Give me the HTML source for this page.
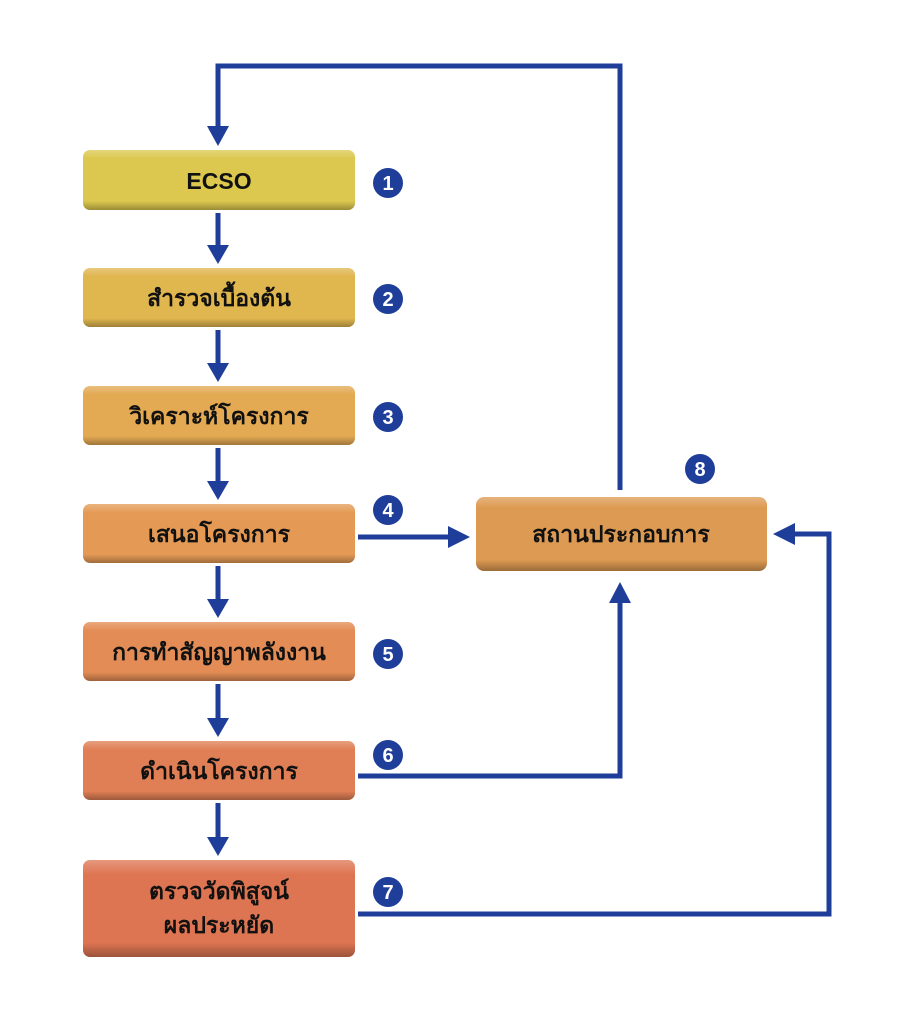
<!DOCTYPE html>
<html><head><meta charset="utf-8"><style>
body{margin:0;background:#fff;width:912px;height:1024px;overflow:hidden}
svg text{font-family:"Liberation Sans","DejaVu Sans",sans-serif;font-weight:bold}
</style></head><body>
<svg width="912" height="1024" viewBox="0 0 912 1024" xmlns="http://www.w3.org/2000/svg">
<defs>
<linearGradient id="sh" x1="0" y1="0" x2="0" y2="1"><stop offset="0" stop-color="#fff" stop-opacity="0.25"/><stop offset="0.15" stop-color="#fff" stop-opacity="0"/><stop offset="0.85" stop-color="#000" stop-opacity="0"/><stop offset="1" stop-color="#000" stop-opacity="0.3"/></linearGradient>
</defs>
<g fill="none" stroke="#1f3e99" stroke-width="5">
<polyline points="620,490 620,66 218,66 218,126"/>
<line x1="218" y1="213" x2="218" y2="245"/>
<line x1="218" y1="330" x2="218" y2="363"/>
<line x1="218" y1="448" x2="218" y2="481"/>
<line x1="218" y1="566" x2="218" y2="599"/>
<line x1="218" y1="684" x2="218" y2="718"/>
<line x1="218" y1="803" x2="218" y2="837"/>
<line x1="358" y1="537" x2="448" y2="537"/>
<polyline points="358,776 620,776 620,603"/>
<polyline points="358,914 829,914 829,534 795,534"/>
</g>
<g fill="#1f3e99">
<path d="M207,126 L229,126 L218,146z"/>
<path d="M207,245 L229,245 L218,264z"/>
<path d="M207,363 L229,363 L218,382z"/>
<path d="M207,481 L229,481 L218,500z"/>
<path d="M207,599 L229,599 L218,618z"/>
<path d="M207,718 L229,718 L218,737z"/>
<path d="M207,837 L229,837 L218,856z"/>
<path d="M448,526 L448,548 L470,537z"/>
<path d="M609,603 L631,603 L620,582z"/>
<path d="M795,523 L795,545 L773,534z"/>
</g>
<g>
<rect x="83" y="150" width="272" height="60" rx="7" fill="#dcc84e"/>
<rect x="83" y="268" width="272" height="59" rx="7" fill="#e0b64e"/>
<rect x="83" y="386" width="272" height="59" rx="7" fill="#e3a953"/>
<rect x="83" y="504" width="272" height="59" rx="7" fill="#e49a55"/>
<rect x="83" y="622" width="272" height="59" rx="7" fill="#e38c55"/>
<rect x="83" y="741" width="272" height="59" rx="7" fill="#e07f55"/>
<rect x="83" y="860" width="272" height="97" rx="7" fill="#de7552"/>
<rect x="476" y="497" width="291" height="74" rx="8" fill="#dd9a52"/>
</g>
<g fill="url(#sh)">
<rect x="83" y="150" width="272" height="60" rx="7"/>
<rect x="83" y="268" width="272" height="59" rx="7"/>
<rect x="83" y="386" width="272" height="59" rx="7"/>
<rect x="83" y="504" width="272" height="59" rx="7"/>
<rect x="83" y="622" width="272" height="59" rx="7"/>
<rect x="83" y="741" width="272" height="59" rx="7"/>
<rect x="83" y="860" width="272" height="97" rx="7"/>
<rect x="476" y="497" width="291" height="74" rx="8"/>
</g>
<g font-size="23" text-anchor="middle" fill="#111">
<text x="219" y="189">ECSO</text>
<text x="219" y="306">สำรวจเบื้องต้น</text>
<text x="219" y="424">วิเคราะห์โครงการ</text>
<text x="219" y="542">เสนอโครงการ</text>
<text x="219" y="660">การทำสัญญาพลังงาน</text>
<text x="219" y="779">ดำเนินโครงการ</text>
<text x="219" y="899">ตรวจวัดพิสูจน์</text>
<text x="219" y="933">ผลประหยัด</text>
<text x="621" y="542">สถานประกอบการ</text>
</g>
<g fill="#1f3e99">
<circle cx="388" cy="183" r="15"/><circle cx="388" cy="299" r="15"/><circle cx="388" cy="417" r="15"/>
<circle cx="388" cy="510" r="15"/><circle cx="388" cy="654" r="15"/><circle cx="388" cy="755" r="15"/>
<circle cx="388" cy="892" r="15"/><circle cx="700" cy="469" r="15"/>
</g>
<g fill="#fff" font-size="20" text-anchor="middle">
<text x="388" y="190">1</text><text x="388" y="306">2</text><text x="388" y="424">3</text>
<text x="388" y="517">4</text><text x="388" y="661">5</text><text x="388" y="762">6</text>
<text x="388" y="899">7</text><text x="700" y="476">8</text>
</g>
</svg>
</body></html>
